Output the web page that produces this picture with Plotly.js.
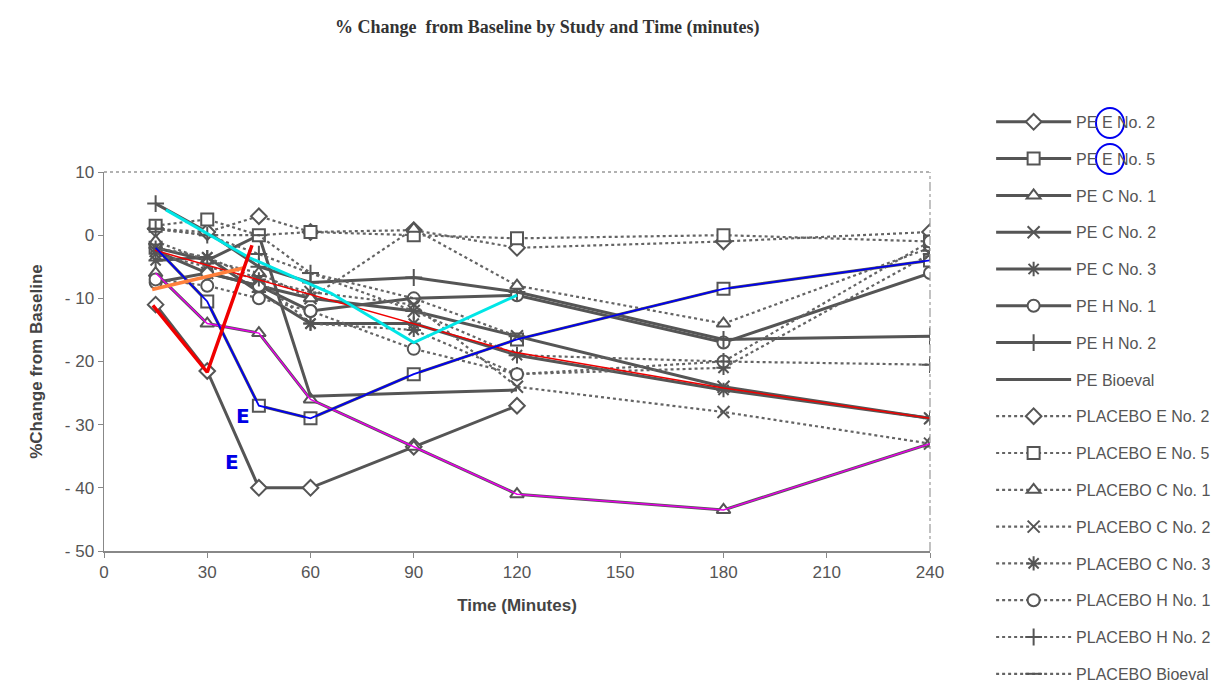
<!DOCTYPE html>
<html>
<head>
<meta charset="utf-8">
<script src="https://cdn.plot.ly/plotly-3.0.1.min.js"></script>
<style>html,body{margin:0;padding:0;background:#fff;}#chart{width:1219px;height:690px;}</style>
</head>
<body>
<div id="chart"></div>
<script>
// ---- data ----
var times = [15, 30, 45, 60, 90, 120, 180, 240];
var xTicks = [0, 30, 60, 90, 120, 150, 180, 210, 240];
var yTicks = [10, 0, -10, -20, -30, -40, -50];

var seriesNames = ["PE E No. 2", "PE E No. 5", "PE C No. 1", "PE C No. 2", "PE C No. 3", "PE H No. 1", "PE H No. 2", "PE Bioeval",
  "PLACEBO E No. 2", "PLACEBO E No. 5", "PLACEBO C No. 1", "PLACEBO C No. 2", "PLACEBO C No. 3", "PLACEBO H No. 1", "PLACEBO H No. 2", "PLACEBO Bioeval"];

var peE2 = [-11, -21.5, -40, -40, -33.5, -27, null, null];
var peE5 = [-2, -10.5, -27, -29, -22, -16.5, -8.5, -4];
var peC1 = [-6, -14, -15.5, -26, -33.5, -41, -43.5, -33];
var peC2 = [-2.5, -6, -8, -10, -12, -16, -24, -29];
var peC3 = [-4, -3.5, -9, -14, -14, -19, -24.5, -29];
var peH1 = [-7.5, -6, -8, -12, -10, -9.5, -17, -6];
var peH2 = [5, 0.5, -5, -7.5, -6.7, -9, -16.5, -16];
var peBio = [-2, -4, 0, -25.5, -25, -24.5, null, null];
var plE2 = [1, 0.5, 3, 0.5, 0.8, -2, -1, 0.5];
var plE5 = [1.5, 2.5, 0, 0.5, 0, -0.5, 0, -1];
var plC1 = [-1, -4, -6, -10, 1, -8, -14, -2];
var plC2 = [-3, -5, -7, -9, -11, -24, -28, -33];
var plC3 = [-2, -3.5, -7, -14, -15, -22, -21, -3];
var plH1 = [-7, -8, -10, -12, -18, -22, -20, -1];
var plH2 = [1, 0, -3, -6, -12, -19, -20, -20.5];
var plBio = [1, 0, 0, -6, -10, -16, null, null];

// hand-drawn colored overlays
var cyanX = [18, 42, 66, 90, 120];
var cyanY = [4, -3.5, -9.2, -17, -9.5];
var orangeX = [14, 40.5];
var orangeY = [-8.6, -5.2];
var redThickX = [14.2, 30, 43];
var redThickY = [-11.1, -21.7, -1.6];
var redThinX = [14.8, 65.7, 119, 180, 240];
var redThinY = [-2.4, -10.3, -18.5, -24.2, -29];

var gray = "rgb(85,85,85)";
var symbols = ["diamond", "square", "triangle-up", "x-thin-open", "asterisk-open", "circle", "cross-thin-open", "",
  "diamond", "square", "triangle-up", "x-thin-open", "asterisk-open", "circle", "cross-thin-open", "line-ew-open"];
var values = [peE2, peE5, peC1, peC2, peC3, peH1, peH2, peBio, plE2, plE5, plC1, plC2, plC3, plH1, plH2, plBio];

var traces = [];
for (var i = 0; i < values.length; i++) {
  var placebo = i >= 8;
  var sym = symbols[i];
  traces.push({
    x: times, y: values[i], name: seriesNames[i], type: "scatter",
    mode: sym ? "lines+markers" : "lines",
    connectgaps: false,
    legendgroup: "g" + i,
    line: {color: placebo ? "rgb(100,100,100)" : gray, width: placebo ? 2.2 : 3, dash: placebo ? "dot" : "solid"},
    marker: {symbol: sym || "circle", size: 12, color: (sym.indexOf("open") >= 0) ? gray : "white",
      line: {color: gray, width: 2}}
  });
}
function overlay(x, y, color, width) {
  return {x: x, y: y, type: "scatter", mode: "lines", showlegend: false, hoverinfo: "skip",
    line: {color: color, width: width}};
}
traces.push(overlay(redThinX, redThinY, "rgb(240,0,0)", 1.5));
traces.push(overlay(times, peC1, "rgb(230,0,230)", 1.5));
traces.push(overlay(times, peE5, "rgb(0,0,240)", 1.8));
traces.push(overlay(cyanX, cyanY, "rgb(0,230,230)", 3));
traces.push(overlay(orangeX, orangeY, "rgb(255,128,60)", 3.5));
traces.push(overlay(redThickX, redThickY, "rgb(240,0,0)", 3.5));

function px2x(p) { return (p - 104) / 826; }
function px2y(p) { return (551 - p) / 379; }

var layout = {
  width: 1219, height: 690,
  margin: {l: 104, r: 289, t: 172, b: 139, autoexpand: false},
  paper_bgcolor: "white", plot_bgcolor: "white",
  font: {family: "Liberation Sans, Arial, sans-serif", color: "#555"},
  title: {text: "% Change  from Baseline by Study and Time (minutes)", x: 0.449, xanchor: "center", y: 0.962, yanchor: "middle",
    font: {family: "Liberation Serif, Times New Roman, serif", size: 18, color: "#333", weight: "bold"}},
  xaxis: {range: [0, 240], tickvals: xTicks, ticktext: xTicks.map(String), ticks: "outside", ticklen: 5, tickcolor: "#888",
    showline: true, linecolor: "#888", linewidth: 1.5, showgrid: false, zeroline: false,
    tickfont: {size: 17, color: "#555"},
    title: {text: "<b>Time (Minutes)</b>", standoff: 18, font: {size: 17, color: "#444"}}},
  yaxis: {range: [-50, 10], tickvals: yTicks, ticktext: yTicks.map(function(v){return v < 0 ? "- " + (-v) : String(v);}),
    ticks: "outside", ticklen: 5, tickcolor: "#888",
    showline: true, linecolor: "#888", linewidth: 1.5, showgrid: false, zeroline: false,
    tickfont: {size: 17, color: "#555"},
    title: {text: "<b>%Change from Baseline</b>", standoff: 18, font: {size: 17, color: "#444"}}},
  legend: {x: 1.074, xanchor: "left", y: 1.177, yanchor: "top", traceorder: "grouped", tracegroupgap: 13,
    itemwidth: 75, maxheight: 1200, font: {size: 16, color: "#555"}, bgcolor: "rgba(0,0,0,0)"},
  shapes: [
    {type: "line", xref: "paper", yref: "paper", x0: 0, x1: 1, y0: 1, y1: 1, line: {color: "#999", width: 1.5, dash: "dot"}},
    {type: "line", xref: "paper", yref: "paper", x0: 1, x1: 1, y0: 0, y1: 1, line: {color: "#999", width: 1.2, dash: "dashdot"}},
    {type: "circle", xref: "paper", yref: "paper", x0: px2x(1096), x1: px2x(1124), y0: px2y(138), y1: px2y(108), line: {color: "rgb(0,0,240)", width: 2}},
    {type: "circle", xref: "paper", yref: "paper", x0: px2x(1096), x1: px2x(1124), y0: px2y(174), y1: px2y(144), line: {color: "rgb(0,0,240)", width: 2}}
  ],
  annotations: [
    {x: 40.4, y: -28.6, xref: "x", yref: "y", text: "<b>E</b>", showarrow: false, font: {size: 20, color: "rgb(0,0,230)", family: "DejaVu Sans, sans-serif"}},
    {x: 37.2, y: -35.9, xref: "x", yref: "y", text: "<b>E</b>", showarrow: false, font: {size: 20, color: "rgb(0,0,230)", family: "DejaVu Sans, sans-serif"}}
  ]
};

Plotly.newPlot("chart", traces, layout, {displayModeBar: false, staticPlot: true});
</script>
</body>
</html>
